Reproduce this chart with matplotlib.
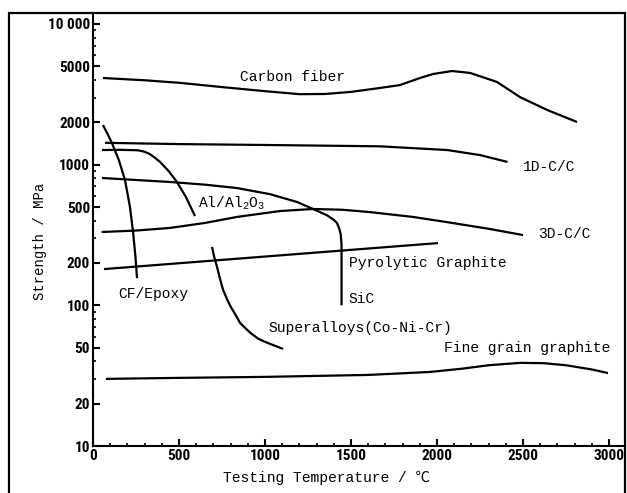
import numpy as np
import matplotlib.pyplot as plt
from matplotlib import font_manager as fm
from matplotlib.patches import Rectangle
from matplotlib.ticker import FixedLocator, NullFormatter, MultipleLocator

# strength vs testing temperature for heat resistant materials
carbon_T = [58, 300, 500, 750, 1000, 1200, 1350, 1500, 1669, 1785, 1901, 1977, 2087,
            2192, 2349, 2483, 2640, 2814]
carbon_S = [4130, 3980, 3820, 3560, 3330, 3170, 3180, 3290, 3510, 3680, 4130, 4410, 4630,
            4490, 3870, 3020, 2450, 2010]

cc1d_T = [70, 500, 1000, 1670, 2060, 2250, 2410]
cc1d_S = [1430, 1400, 1380, 1350, 1270, 1170, 1045]

cc3d_T = [50, 250, 448, 650, 837, 1087, 1279, 1450, 1610, 1860, 2060, 2300, 2500]
cc3d_S = [332, 340, 355, 385, 425, 468, 484, 478, 460, 425, 390, 350, 316]

pyro_T = [64, 2006]
pyro_S = [181, 277]

alal_T = [52, 157, 262, 300, 330, 360, 390, 440, 488, 540, 593]
alal_S = [1270, 1275, 1265, 1235, 1190, 1120, 1045, 900, 753, 590, 431]

cfep_T = [58, 85, 110, 150, 186, 215, 233, 247, 256]
cfep_S = [1915, 1650, 1426, 1080, 778, 500, 332, 220, 156]

sic_T = [52, 448, 650, 837, 1029, 1186, 1279, 1360, 1400, 1419, 1432, 1440, 1445, 1445]
sic_S = [804, 753, 721, 682, 617, 543, 484, 437, 405, 384, 350, 320, 270, 100]

super_T = [692, 705, 720, 738, 756, 780, 800, 830, 855, 890, 920, 960, 1000, 1050, 1105]
super_S = [260, 220, 190, 155, 129, 110, 98, 85, 75, 68, 63, 58, 55, 52, 49]

fine_T = [75, 500, 1000, 1600, 1959, 2150, 2300, 2483, 2620, 2750, 2900, 2994]
fine_S = [30, 30.5, 31, 32, 33.6, 35.5, 37.5, 39, 38.8, 37.5, 35, 33]

curve_labels = ['Carbon fiber', '1D-C/C', '3D-C/C', 'Pyrolytic Graphite', 'SiC',
                'Superalloys(Co-Ni-Cr)', 'Fine grain graphite', 'CF/Epoxy',
                r'Al/Al$_\mathregular{2}$O$_\mathregular{3}$']
label_T = [855, 2500, 2587, 1488, 1488, 1023, 2041, 145, 610]
label_S = [4200, 962, 321, 200, 111, 69, 49.8, 120, 533]

xticks = [0, 500, 1000, 1500, 2000, 2500, 3000]
yticks = [10, 20, 50, 100, 200, 500, 1000, 2000, 5000, 10000]
yticklabels = ['10', '20', '50', '100', '200', '500', '1000', '2000', '5000', '10 000']

txtfont = ['Liberation Mono', 'Noto Sans CJK JP', 'DejaVu Sans']
# narrow bold face for the tick numbers, if one is installed
avail = {f.name for f in fm.fontManager.ttflist}
numfont = next((n for n in ['Liberation Sans Narrow', 'Roboto Condensed',
                            'Open Sans Condensed', 'DejaVu Sans Condensed']
                if n in avail), 'DejaVu Sans')

fig = plt.figure(figsize=(6.27, 4.93), dpi=100)
ax = fig.add_axes([93/627, 47/493, 532/627, 433/493])

lw = 1.6
for T, S in [(carbon_T, carbon_S), (cc1d_T, cc1d_S), (cc3d_T, cc3d_S),
             (pyro_T, pyro_S), (alal_T, alal_S), (cfep_T, cfep_S),
             (sic_T, sic_S), (super_T, super_S), (fine_T, fine_S)]:
    ax.plot(T, S, color='black', lw=lw, solid_capstyle='butt', solid_joinstyle='round')

for txt, t, s in zip(curve_labels, label_T, label_S):
    ax.text(t, s, txt, family=txtfont, fontsize=10.5, ha='left', va='center')

ax.set_yscale('log')
ax.set_xlim(0, 3093)
ax.set_ylim(10, 11970)

ax.spines['top'].set_visible(False)
ax.spines['right'].set_visible(False)
ax.spines['left'].set_linewidth(1.5)
ax.spines['bottom'].set_linewidth(1.5)

ax.xaxis.set_major_locator(FixedLocator(xticks))
ax.xaxis.set_minor_locator(MultipleLocator(100))
ax.set_xticklabels([str(v) for v in xticks])
ax.yaxis.set_major_locator(FixedLocator(yticks))
minor_y = [m * 10**e for e in range(1, 4) for m in (3, 4, 6, 7, 8, 9)]
ax.yaxis.set_minor_locator(FixedLocator(minor_y))
ax.yaxis.set_minor_formatter(NullFormatter())
ax.set_yticklabels(yticklabels)

ax.tick_params(which='major', direction='in', length=5, width=1.5, pad=2)
ax.tick_params(which='minor', direction='in', length=2.5, width=1.2)
for lab in ax.get_xticklabels() + ax.get_yticklabels():
    lab.set_family(numfont)
    lab.set_fontweight('bold')
    lab.set_fontstretch('condensed')
    lab.set_fontsize(10 if numfont == 'DejaVu Sans' else 11)

fig.text(327/627, 1 - 478/493, 'Testing Temperature / ℃', family=txtfont,
         fontsize=10.5, ha='center', va='center')
fig.text(40/627, 1 - 241/493, 'Strength / MPa', family=txtfont,
         fontsize=10, ha='center', va='center', rotation=90)

# outer frame around the whole figure
fig.add_artist(Rectangle((9/627, -0.05), 616/627, 1.05 - 13/493,
                         transform=fig.transFigure, fill=False,
                         edgecolor='black', lw=1.6))

fig.savefig('out.png', dpi=100)
